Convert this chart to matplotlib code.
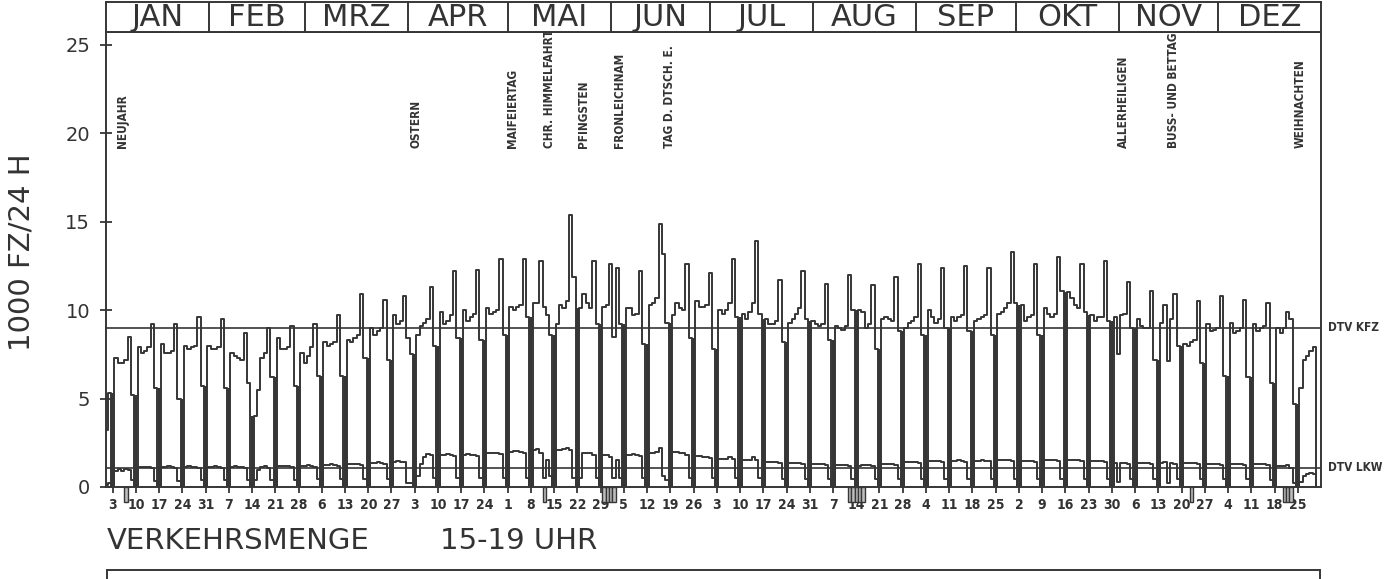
import numpy as np
import matplotlib
matplotlib.use("Agg")
import matplotlib.pyplot as plt
from matplotlib.patches import Rectangle
from matplotlib import font_manager as fm

# ---------------- data (year 1988, day 0 = 1 Jan, Sundays are 0) ----------------
months = ['JAN', 'FEB', 'MRZ', 'APR', 'MAI', 'JUN', 'JUL', 'AUG', 'SEP', 'OKT', 'NOV', 'DEZ']
month_days = [31, 29, 31, 30, 31, 30, 31, 31, 30, 31, 30, 31]

kfz_jan = [3.2, 5.3, 0, 7.3, 7.0, 7.0, 7.2, 8.5, 5.2, 0, 7.9, 7.6, 7.7, 7.9, 9.2, 5.6, 0,
           8.1, 7.6, 7.6, 7.7, 9.2, 5.0, 0, 8.0, 7.8, 7.9, 8.0, 9.6, 5.7, 0]
kfz_feb = [8.0, 7.8, 7.8, 7.9, 9.5, 5.6, 0, 7.6, 7.4, 7.3, 7.2, 8.7, 5.9, 0,
           4.0, 5.5, 7.3, 7.6, 9.0, 6.2, 0, 8.4, 7.8, 7.8, 7.9, 9.1, 5.7, 0, 7.6]
kfz_mar = [7.0, 7.4, 7.9, 9.2, 6.3, 0, 8.2, 8.0, 8.1, 8.2, 9.7, 6.3, 0, 8.3, 8.2, 8.4,
           8.6, 10.9, 7.3, 0, 9.0, 8.6, 8.8, 9.0, 10.6, 7.2, 0, 9.7, 9.2, 9.4, 10.8]
kfz_apr = [8.4, 7.5, 0, 8.6, 9.1, 9.3, 9.5, 11.3, 8.0, 0, 9.9, 9.2, 9.4, 9.7, 12.2, 8.4,
           0, 10.0, 9.4, 9.6, 9.8, 12.3, 8.3, 0, 10.1, 9.8, 9.9, 10.0, 12.9, 8.6]
kfz_mai = [0, 10.2, 10.0, 10.2, 10.3, 12.9, 9.6, 0, 10.4, 10.4, 12.8, 10.2, 9.7, 8.6,
           0, 9.2, 10.3, 10.1, 10.5, 15.4, 11.9, 0, 10.1, 10.9, 10.4, 10.1, 12.8, 9.2,
           0, 10.2, 10.3]
kfz_jun = [12.6, 8.5, 12.4, 9.2, 0, 10.1, 10.1, 9.7, 9.8, 12.2, 8.1, 0, 10.3, 10.4, 10.7,
           14.9, 13.2, 9.3, 0, 9.7, 10.4, 10.1, 10.0, 12.6, 8.4, 0, 10.5, 10.2, 10.2, 10.3]
kfz_jul = [12.1, 7.8, 0, 10.0, 9.8, 10.0, 10.4, 12.9, 9.6, 0, 9.8, 9.5, 9.9, 10.4, 13.9,
           9.8, 0, 9.5, 9.2, 9.2, 9.4, 11.7, 8.2, 0, 9.3, 9.5, 9.8, 10.1, 12.2, 9.5, 0]
kfz_aug = [9.4, 9.2, 9.1, 9.2, 11.5, 8.3, 0, 9.1, 9.0, 8.9, 9.1, 12.0, 10.0, 0, 10.0,
           9.9, 9.0, 9.2, 11.4, 7.8, 0, 9.5, 9.6, 9.5, 9.4, 11.9, 8.8, 0, 9.0, 9.3, 9.4]
kfz_sep = [9.6, 12.6, 8.6, 0, 10.0, 9.6, 9.3, 9.5, 12.4, 9.0, 0, 9.6, 9.4, 9.6, 9.7, 12.5,
           8.8, 0, 9.4, 9.5, 9.6, 9.7, 12.4, 8.6, 0, 9.8, 9.9, 10.1, 10.4, 13.3]
kfz_okt = [10.4, 0, 10.3, 9.4, 9.6, 9.7, 12.6, 8.6, 0, 10.1, 9.8, 9.6, 9.8, 13.0, 11.1,
           0, 11.0, 10.7, 10.3, 10.1, 12.6, 9.9, 0, 9.7, 9.4, 9.6, 9.6, 12.8, 9.4, 0, 9.6]
kfz_nov = [7.5, 9.7, 9.8, 11.6, 9.0, 0, 9.5, 9.1, 9.0, 9.0, 11.1, 7.2, 0, 9.3, 10.3, 7.1,
           9.5, 10.9, 8.0, 0, 8.1, 8.0, 8.2, 8.3, 10.5, 7.0, 0, 9.2, 8.8, 8.9]
kfz_dez = [9.0, 10.8, 6.3, 0, 9.3, 8.7, 8.8, 9.0, 10.6, 6.2, 0, 9.2, 8.8, 9.0, 9.1, 10.4,
           5.9, 0, 9.0, 8.7, 9.0, 9.9, 9.5, 4.7, 0, 5.6, 7.2, 7.4, 7.7, 7.9, 0]

lkw_jan = [0.1, 0.2, 0, 0.9, 1.0, 0.9, 1.0, 0.95, 0.4, 0, 1.15, 1.15, 1.15, 1.15, 1.1, 0.35,
           0, 1.15, 1.15, 1.2, 1.15, 1.1, 0.35, 0, 1.15, 1.2, 1.15, 1.15, 1.1, 0.4, 0]
lkw_feb = [1.15, 1.15, 1.2, 1.15, 1.1, 0.4, 0, 1.15, 1.2, 1.15, 1.15, 1.1, 0.4, 0,
           0.4, 0.95, 1.15, 1.2, 1.1, 0.4, 0, 1.2, 1.2, 1.2, 1.2, 1.15, 0.4, 0, 1.2]
lkw_mar = [1.2, 1.25, 1.2, 1.15, 0.45, 0, 1.25, 1.25, 1.3, 1.25, 1.2, 0.45, 0, 1.3, 1.3,
           1.3, 1.3, 1.25, 0.45, 0, 1.35, 1.35, 1.4, 1.35, 1.3, 0.45, 0, 1.4, 1.45, 1.4, 1.4]
lkw_apr = [0.2, 0.25, 0, 0.6, 1.3, 1.7, 1.85, 1.8, 0.5, 0, 1.8, 1.8, 1.85, 1.8, 1.75, 0.5,
           0, 1.8, 1.85, 1.8, 1.8, 1.75, 0.5, 0, 1.9, 1.9, 1.95, 1.9, 1.85, 0.5]
lkw_mai = [0, 2.0, 2.05, 2.05, 2.0, 1.95, 0.5, 0, 2.1, 2.15, 1.9, 0.5, 1.5, 0.6,
           0, 2.1, 2.1, 2.15, 2.2, 2.1, 0.5, 0, 0.5, 1.9, 1.95, 1.9, 1.8, 0.5, 0, 1.8, 1.8]
lkw_jun = [1.7, 0.5, 1.5, 0.5, 0, 1.8, 1.8, 1.85, 1.8, 1.75, 0.5, 0, 1.9, 1.9, 2.0, 2.2,
           0.6, 0.4, 0, 2.0, 2.0, 1.95, 1.9, 1.8, 0.5, 0, 1.75, 1.75, 1.7, 1.7]
lkw_jul = [1.65, 0.5, 0, 1.6, 1.6, 1.6, 1.7, 1.6, 0.5, 0, 1.55, 1.55, 1.55, 1.7, 1.55, 0.5,
           0, 1.4, 1.4, 1.4, 1.4, 1.35, 0.45, 0, 1.35, 1.35, 1.35, 1.35, 1.3, 0.45, 0]
lkw_aug = [1.3, 1.3, 1.3, 1.3, 1.25, 0.45, 0, 1.25, 1.25, 1.25, 1.25, 1.2, 0.45, 0, 1.2,
           1.25, 1.25, 1.25, 1.2, 0.45, 0, 1.3, 1.3, 1.3, 1.3, 1.25, 0.45, 0, 1.4, 1.4, 1.4]
lkw_sep = [1.4, 1.35, 0.45, 0, 1.45, 1.45, 1.45, 1.45, 1.4, 0.45, 0, 1.45, 1.45, 1.5, 1.45,
           1.4, 0.45, 0, 1.47, 1.47, 1.5, 1.47, 1.45, 0.45, 0, 1.5, 1.5, 1.5, 1.5, 1.45]
lkw_okt = [0.45, 0, 1.45, 1.45, 1.45, 1.45, 1.4, 0.45, 0, 1.5, 1.5, 1.5, 1.5, 1.45, 0.45,
           0, 1.5, 1.5, 1.5, 1.5, 1.45, 0.45, 0, 1.45, 1.45, 1.45, 1.45, 1.4, 0.45, 0, 1.35]
lkw_nov = [0.3, 1.35, 1.35, 1.3, 0.45, 0, 1.35, 1.35, 1.35, 1.35, 1.3, 0.45, 0, 1.35, 1.4,
           0.25, 1.35, 1.3, 0.45, 0, 1.35, 1.35, 1.35, 1.35, 1.3, 0.45, 0, 1.3, 1.3, 1.3]
lkw_dez = [1.3, 1.25, 0.45, 0, 1.3, 1.3, 1.3, 1.3, 1.25, 0.45, 0, 1.3, 1.3, 1.3, 1.3, 1.25,
           0.4, 0, 1.2, 1.2, 1.2, 1.25, 1.1, 0.2, 0, 0.3, 0.65, 0.75, 0.8, 0.75, 0]

dtv_kfz = 9.0
dtv_lkw = 1.1

# days marked below the zero line
marked_days = [6, 132, 150, 151, 152, 153, 224, 225, 226, 227, 228, 327, 355, 356, 357]

tick_labels = ['3', '10', '17', '24', '31', '7', '14', '21', '28', '6', '13', '20', '27',
               '3', '10', '17', '24', '1', '8', '15', '22', '29', '5', '12', '19', '26',
               '3', '10', '17', '24', '31', '7', '14', '21', '28', '4', '11', '18', '25',
               '2', '9', '16', '23', '30', '6', '13', '20', '27', '4', '11', '18', '25']

holidays = ['NEUJAHR', 'OSTERN', 'MAIFEIERTAG', 'CHR. HIMMELFAHRT', 'PFINGSTEN',
            'FRONLEICHNAM', 'TAG D. DTSCH. E.', 'ALLERHEILIGEN', 'BUSS- UND BETTAG',
            'WEIHNACHTEN']
holiday_label_x = [4.9, 93.4, 122.4, 133.5, 143.8, 154.6, 169.6, 306.6, 321.5, 359.6]

# ---------------- fonts: look for a condensed face ----------------
def find_narrow():
    best = None
    for f in fm.fontManager.ttflist:
        nm = f.name.lower()
        narrowish = ('narrow' in nm or 'condensed' in nm or
                     str(f.stretch) in ('condensed', 'semi-condensed', 'extra-condensed',
                                        'ultra-condensed'))
        try:
            st = int(f.stretch)
            if st < 500:
                narrowish = True
        except Exception:
            pass
        if not narrowish:
            continue
        w = f.weight if isinstance(f.weight, int) else (700 if 'bold' in str(f.weight) else 400)
        if f.style != 'normal':
            continue
        score = (w >= 600) * 2 + ('sans' in nm)
        if best is None or score > best[0]:
            best = (score, f.fname)
    return best[1] if best else None

narrow_file = find_narrow()


def nprop(size, fallback_size=None):
    if narrow_file:
        return fm.FontProperties(fname=narrow_file, size=size)
    return fm.FontProperties(family='DejaVu Sans', weight='bold',
                             size=fallback_size or size * 0.8)

# ---------------- assemble ----------------
kfz = np.array(kfz_jan + kfz_feb + kfz_mar + kfz_apr + kfz_mai + kfz_jun +
               kfz_jul + kfz_aug + kfz_sep + kfz_okt + kfz_nov + kfz_dez)
lkw = np.array(lkw_jan + lkw_feb + lkw_mar + lkw_apr + lkw_mai + lkw_jun +
               lkw_jul + lkw_aug + lkw_sep + lkw_okt + lkw_nov + lkw_dez)
days = np.arange(len(kfz))
sundays = days[2::7]
tick_days = sundays

W, H = 1390, 579
fig = plt.figure(figsize=(W / 100, H / 100), dpi=100)
fig.patch.set_facecolor('white')

LC = '#363636'
TC = '#333333'

ax_l, ax_r, ax_top, ax_y0 = 106, 1321, 31.5, 487
ax = fig.add_axes([ax_l / W, 1 - ax_y0 / H, (ax_r - ax_l) / W, (ax_y0 - ax_top) / H])
ax.set_xlim(0, 366)
ax.set_ylim(0, 25.76)

# reference lines
ax.axhline(dtv_kfz, color=LC, lw=1.2, zorder=1)
ax.axhline(dtv_lkw, color=LC, lw=1.2, zorder=1)

# Sunday bars (dark thick strokes)
sun_h_k = np.minimum(kfz[sundays - 1], kfz[np.minimum(sundays + 1, len(kfz) - 1)])
ax.bar(sundays, sun_h_k, width=0.9, color=LC, lw=0, zorder=2)

# series
ax.step(days, kfz, where='mid', color=LC, lw=1.4, zorder=3)
ax.step(days, lkw, where='mid', color=LC, lw=1.4, zorder=3)

# marks below zero
ax.bar(marked_days, [-0.85] * len(marked_days), width=1.0, bottom=0,
       facecolor='#bdbdbd', edgecolor=LC, lw=1.0, clip_on=False, zorder=2)

for s in ['left', 'right', 'top', 'bottom']:
    ax.spines[s].set_linewidth(1.4)
    ax.spines[s].set_color(LC)

ax.set_yticks([0, 5, 10, 15, 20, 25])
ax.tick_params(axis='y', direction='inout', length=9, width=1.3, pad=7,
               labelsize=14, colors=LC)
for t in ax.get_yticklabels():
    t.set_color(TC)
ax.set_xticks(tick_days)
ax.set_xticklabels(tick_labels)
ax.tick_params(axis='x', direction='inout', length=8, width=1.3, pad=4, colors=LC)
for t in ax.get_xticklabels():
    t.set_fontproperties(nprop(10, 8.0))
    t.set_color(TC)

# holiday labels
for name, xpos in zip(holidays, holiday_label_x):
    ax.text(xpos, 19.17, name, rotation=90, ha='center', va='bottom',
            fontproperties=nprop(8.5, 7.5), color=TC)

# DTV labels on right
for lab, val in (('DTV KFZ', dtv_kfz), ('DTV LKW', dtv_lkw)):
    ax.text(1.006, val, lab, transform=ax.get_yaxis_transform(), ha='left',
            va='center', fontproperties=nprop(8.5, 7.5), color=TC)

# month header
hx = fig.add_axes([ax_l / W, 1 - ax_top / H, (ax_r - ax_l) / W, (ax_top - 1.5) / H])
hx.set_xlim(0, 366)
hx.set_ylim(0, 1)
hx.set_xticks([])
hx.set_yticks([])
for s in hx.spines.values():
    s.set_linewidth(1.4)
    s.set_color(LC)
bounds = np.concatenate([[0], np.cumsum(month_days)])
hx.vlines(bounds[1:-1], 0, 1, color=LC, lw=1.4)
for m, a, b in zip(months, bounds[:-1], bounds[1:]):
    hx.text((a + b) / 2, 0.47, m, ha='center', va='center', fontsize=22, color=TC)

# axis label and footer
fig.text(22 / W, 1 - 252 / H, '1000 FZ/24 H', rotation=90, ha='center', va='center',
         fontsize=21, color=TC)
fig.text(107 / W, 1 - 541 / H, 'VERKEHRSMENGE', ha='left', va='center',
         fontsize=21, color=TC)
fig.text(440 / W, 1 - 541 / H, '15-19 UHR', ha='left', va='center',
         fontsize=21, color=TC)
fig.patches.append(Rectangle((107 / W, -0.05), (1320 - 107) / W, 0.05 + (H - 570) / H,
                             transform=fig.transFigure, fill=False, lw=1.4,
                             edgecolor=LC))

fig.savefig('out.png', dpi=100)
